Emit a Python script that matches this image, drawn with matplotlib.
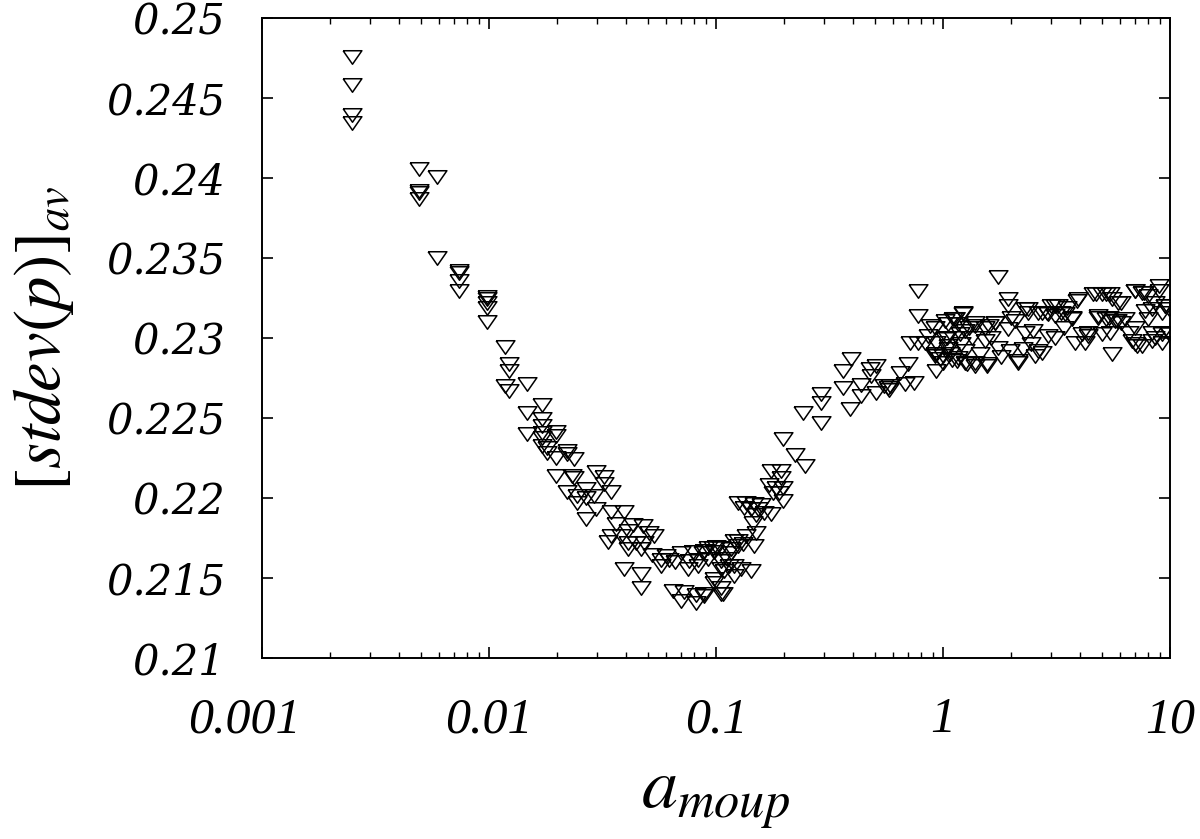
import numpy as np
import matplotlib
matplotlib.use("Agg")
import matplotlib.pyplot as plt
import matplotlib.transforms as mtransforms
from matplotlib.ticker import NullFormatter, LogLocator

# ---- data ----
# decreasing branch, a_moup < 0.03
a_left = [0.0025, 0.0025, 0.0025, 0.0025,
          0.0049, 0.0049, 0.0049, 0.0049, 0.0059, 0.0059,
          0.0074, 0.0074, 0.0074, 0.0074,
          0.0098, 0.0098, 0.0098, 0.0098, 0.0098,
          0.0118, 0.0123, 0.0123, 0.0118, 0.0123, 0.01475, 0.01475,
          0.0172, 0.0172, 0.0172, 0.0172, 0.01475, 0.0172, 0.0172,
          0.0197, 0.0197, 0.018, 0.018, 0.0197, 0.0221, 0.0221, 0.0237,
          0.0197, 0.0233, 0.0221, 0.0245, 0.0245, 0.0267, 0.0267, 0.0237, 0.0267]
sd_left = [0.24756, 0.24581, 0.24394, 0.24344,
           0.24056, 0.23919, 0.23906, 0.23869, 0.24006, 0.23500,
           0.23419, 0.23406, 0.23356, 0.23294,
           0.23256, 0.23244, 0.23219, 0.23188, 0.23100,
           0.22944, 0.22838, 0.22794, 0.22700, 0.22669, 0.22713, 0.22531,
           0.22581, 0.22494, 0.22450, 0.22406, 0.22400, 0.22375, 0.22325,
           0.22413, 0.22388, 0.22313, 0.22281, 0.22250, 0.22294, 0.22275, 0.22244,
           0.22138, 0.22138, 0.22038, 0.22013, 0.21969, 0.22056, 0.22000, 0.22125, 0.21869]

# minimum region, 0.029 < a_moup < 0.13
a_min = [0.0295, 0.0321, 0.0321, 0.0344, 0.0290, 0.0295, 0.0346, 0.0394,
         0.0362, 0.0429, 0.0475, 0.0408, 0.0508, 0.0344, 0.0381, 0.0534,
         0.0334, 0.0408, 0.0443, 0.0483, 0.0408, 0.0467,
         0.0525, 0.0571, 0.0622, 0.0700, 0.0762, 0.0830, 0.0571, 0.0750,
         0.0394, 0.0467, 0.0467, 0.0644, 0.0724, 0.0700, 0.0816, 0.0887, 0.0816,
         0.0918, 0.1000, 0.0873, 0.0984, 0.1052, 0.0830, 0.0984, 0.1052, 0.1071,
         0.1089, 0.1205, 0.1165, 0.1247, 0.1247, 0.1247,
         0.1052, 0.0966, 0.0887, 0.1146, 0.1052, 0.1205, 0.0984, 0.1052, 0.0887,
         0.0600, 0.0660, 0.0790, 0.0920, 0.1120]
sd_min = [0.22163, 0.22131, 0.22088, 0.22038, 0.22013, 0.21931, 0.21913, 0.21913,
          0.21838, 0.21831, 0.21825, 0.21794, 0.21781, 0.21763, 0.21763, 0.21763,
          0.21725, 0.21719, 0.21719, 0.21719, 0.21681, 0.21681,
          0.21644, 0.21613, 0.21613, 0.21656, 0.21606, 0.21613, 0.21575, 0.21556,
          0.21556, 0.21525, 0.21438, 0.21419, 0.21413, 0.21356, 0.21394, 0.21400, 0.21344,
          0.21688, 0.21694, 0.21656, 0.21663, 0.21606, 0.21575, 0.21469, 0.21438, 0.21400,
          0.21544, 0.21575, 0.21656, 0.21700, 0.21731, 0.21969,
          0.21688, 0.21688, 0.21669, 0.21575, 0.21556, 0.21513, 0.21494, 0.21400, 0.21388,
          0.21640, 0.21600, 0.21660, 0.21620, 0.21620]

# rising branch, 0.13 < a_moup < 0.9
a_rise = [0.197, 0.222, 0.2455, 0.291, 0.175, 0.1935, 0.1935, 0.1719, 0.184, 0.197,
          0.178, 0.190, 0.197, 0.1357, 0.1476, 0.158, 0.1334, 0.1427, 0.1528,
          0.1502, 0.1634, 0.175, 0.1452, 0.1502, 0.1357, 0.1476, 0.1312, 0.1205,
          0.1165, 0.1427, 0.1289,
          0.242, 0.291, 0.291, 0.362, 0.362, 0.392, 0.388, 0.4365, 0.4365,
          0.475, 0.508, 0.483, 0.508, 0.552, 0.582, 0.570, 0.580,
          0.644, 0.702, 0.678, 0.746, 0.713, 0.777, 0.777, 0.875, 0.777, 0.831, 0.861,
          0.921, 0.969, 0.936, 0.921]
sd_rise = [0.22369, 0.22269, 0.22200, 0.22469, 0.22169, 0.22169, 0.22125, 0.22081, 0.22063, 0.22063,
           0.22031, 0.22031, 0.21981, 0.21969, 0.21963, 0.21956, 0.21938, 0.21931, 0.21931,
           0.21894, 0.21906, 0.21900, 0.21844, 0.21781, 0.21763, 0.21700, 0.21713, 0.21731,
           0.21681, 0.21544, 0.21556,
           0.22531, 0.22650, 0.22594, 0.22794, 0.22688, 0.22869, 0.22556, 0.22706, 0.22638,
           0.22806, 0.22825, 0.22763, 0.22656, 0.22700, 0.22700, 0.22688, 0.22675,
           0.22781, 0.22838, 0.22713, 0.22719, 0.22969, 0.23294, 0.23138, 0.23075, 0.22969, 0.22969, 0.23013,
           0.22888, 0.22869, 0.22794, 0.22900]

# plateau, a_moup > 0.9
a_plat = [1.00, 1.055, 1.13, 1.02, 1.11, 1.19, 1.07, 1.15,
          1.75, 1.94, 1.94, 1.23, 1.02, 1.38, 1.69, 2.38, 2.63, 2.86, 3.12, 0.92,
          1.13, 1.25, 1.53, 2.07, 1.94, 1.04, 0.936, 1.34, 1.53, 2.30, 2.50, 2.91,
          1.055, 1.25, 1.75, 1.97, 2.26, 2.63, 0.936, 1.00, 1.17, 1.38, 1.56, 2.15, 1.27,
          3.22, 3.51, 3.88, 4.60, 5.01, 5.45, 5.93, 7.03, 7.65, 8.91, 8.91, 8.61, 9.53,
          3.12, 3.45, 3.69, 4.84, 5.36, 5.83, 6.35, 7.78, 8.32, 9.22,
          4.09, 4.37, 3.82, 4.23, 5.01, 5.45, 6.57, 6.79, 7.15, 8.32, 9.22, 9.86,
          8.32, 9.22, 5.54, 3.12,
          7.03, 7.50, 9.86, 4.37, 8.61, 4.84, 5.20, 5.70, 6.10, 7.03, 8.00, 9.53, 9.86,
          7.00, 7.50, 8.00, 4.70, 5.20, 5.54, 6.10, 3.95, 3.69, 3.00, 3.30, 2.73, 2.90,
          2.30, 2.38, 2.00, 1.69, 1.60, 1.38, 1.30, 1.17, 1.11, 1.23, 1.25, 1.38, 1.56,
          2.15, 2.73, 2.55,
          1.05, 1.20, 1.45, 1.80, 2.45, 3.40, 1.10, 1.62]
sd_plat = [0.22888, 0.23088, 0.23119, 0.22994, 0.23000, 0.23025, 0.22900, 0.22856,
           0.23381, 0.23244, 0.23200, 0.23156, 0.23106, 0.23094, 0.23094, 0.23181, 0.23156, 0.23156, 0.23200, 0.23063,
           0.23119, 0.23044, 0.23063, 0.23106, 0.23056, 0.23000, 0.22969, 0.23000, 0.22981, 0.23031, 0.23044, 0.23013,
           0.22931, 0.22919, 0.22938, 0.22919, 0.22931, 0.22919, 0.22900, 0.22844, 0.22875, 0.22844, 0.22838, 0.22856, 0.22838,
           0.23200, 0.23188, 0.23231, 0.23275, 0.23275, 0.23275, 0.23219, 0.23294, 0.23281, 0.23325, 0.23294, 0.23219, 0.23200,
           0.23138, 0.23150, 0.23119, 0.23138, 0.23125, 0.23106, 0.23119, 0.23169, 0.23181, 0.23156,
           0.23025, 0.23013, 0.22969, 0.22969, 0.23025, 0.23031, 0.23031, 0.22981, 0.22950, 0.23031, 0.23025, 0.23031,
           0.22981, 0.22969, 0.22900, 0.23000,
           0.22963, 0.22950, 0.23025, 0.23031, 0.23000, 0.23125, 0.23119, 0.23106, 0.23094, 0.23063, 0.23119, 0.23200, 0.23181,
           0.23294, 0.23281, 0.23263, 0.23275, 0.23275, 0.23244, 0.23219, 0.23244, 0.23125, 0.23200, 0.23156, 0.23156, 0.23150,
           0.23181, 0.23156, 0.23125, 0.23094, 0.23075, 0.23075, 0.23063, 0.23088, 0.23119, 0.23150, 0.22844, 0.22825, 0.22825,
           0.22844, 0.22906, 0.22888,
           0.22950, 0.22960, 0.22900, 0.22880, 0.22960, 0.23060, 0.22860, 0.23000]

x_ticks = [0.001, 0.01, 0.1, 1, 10]
x_tick_labels = ["0.001", "0.01", "0.1", "1", "10"]
y_ticks = [0.21, 0.215, 0.22, 0.225, 0.23, 0.235, 0.24, 0.245, 0.25]
y_tick_labels = ["0.21", "0.215", "0.22", "0.225", "0.23", "0.235", "0.24", "0.245", "0.25"]

a_all = np.array(a_left + a_min + a_rise + a_plat)
sd_all = np.array(sd_left + sd_min + sd_rise + sd_plat)

# ---- figure ----
plt.rcParams["mathtext.fontset"] = "stix"
fig = plt.figure(figsize=(12, 8.39), dpi=100)
ax = fig.add_axes([262/1200, 1-658/839, (1170-262)/1200, (658-18)/839])

tri = [(-1, 0.72), (1, 0.72), (0, -0.72), (-1, 0.72)]
ax.plot(a_all, sd_all, linestyle="none", marker=tri, markersize=13.5,
        markerfacecolor="none", markeredgecolor="black", markeredgewidth=1.1)

ax.set_xscale("log")
ax.set_xlim(0.001, 10)
ax.set_ylim(0.21, 0.25)

ax.set_xticks(x_ticks)
ax.set_xticklabels(x_tick_labels)
ax.xaxis.set_minor_locator(LogLocator(base=10, subs=np.arange(2, 10)))
ax.xaxis.set_minor_formatter(NullFormatter())
ax.set_yticks(y_ticks)
ax.set_yticklabels(y_tick_labels)

for s in ax.spines.values():
    s.set_linewidth(1.4)
ax.tick_params(which="major", direction="in", length=8, width=1.2,
               top=True, right=True)
ax.tick_params(which="minor", direction="in", length=4, width=1.0,
               top=True, right=True)
ax.tick_params(axis="y", pad=26)
ax.tick_params(axis="x", pad=28)

for lab in ax.get_yticklabels():
    lab.set_fontfamily("DejaVu Serif")
    lab.set_fontstyle("italic")
    lab.set_fontsize(30)
xlabs = ax.get_xticklabels()
for lab in xlabs:
    lab.set_fontfamily("Liberation Serif")
    lab.set_fontstyle("italic")
    lab.set_fontsize(36)
# the first label sits slightly left of its tick in the reference
xlabs[0].set_transform(xlabs[0].get_transform() +
                       mtransforms.ScaledTranslation(-18/100, 0, fig.dpi_scale_trans))

ax.set_ylabel(r"$[stdev(p)]_{av}$", fontsize=48, labelpad=22)
ax.set_xlabel(r"$a_{moup}$", fontsize=52, labelpad=14)

fig.savefig("out.png", dpi=100)
